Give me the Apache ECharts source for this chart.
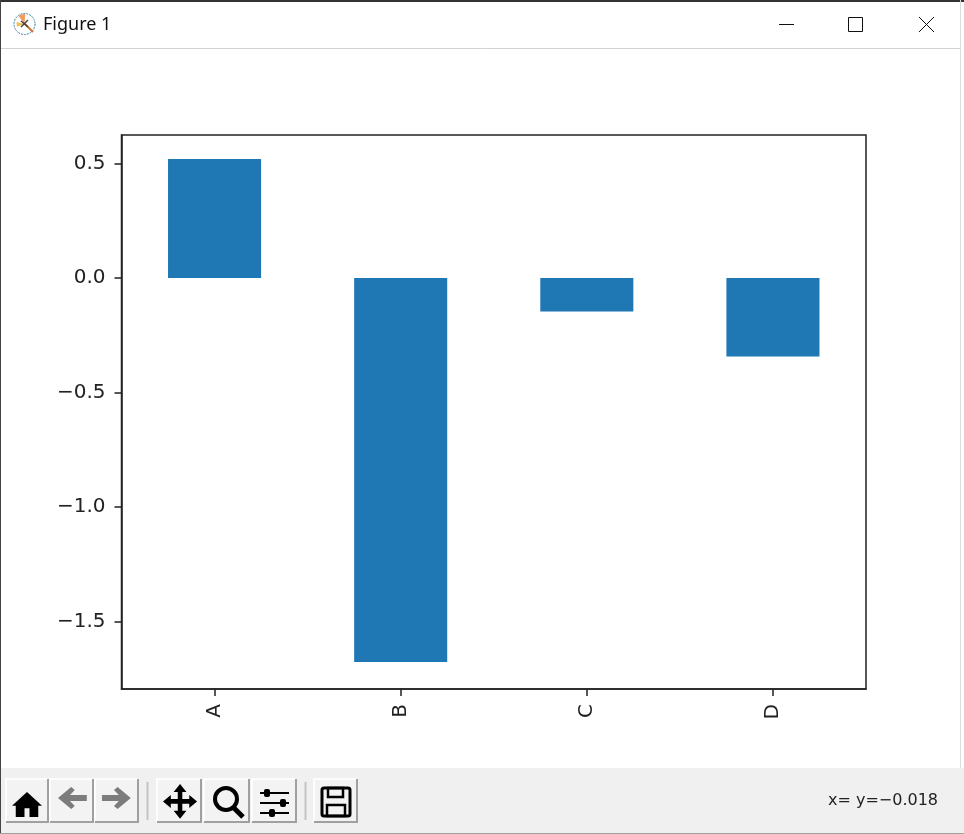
<!DOCTYPE html>
<html>
<head>
<meta charset="utf-8">
<title>Figure 1</title>
<script src="https://cdn.jsdelivr.net/npm/echarts@6/dist/echarts.min.js"></script>
<style>
html, body { margin: 0; padding: 0; background: #fff; }
#main { width: 964px; height: 834px; }
</style>
</head>
<body>
<div id="main"></div>
<script>
const categories = ['A', 'B', 'C', 'D'];
const seriesValues = [0.52, -1.677, -0.146, -0.343];
const yTicks = [-1.5, -1.0, -0.5, 0.0, 0.5];
const yMin = -1.795;
const yMax = 0.6245;
const statusText = 'x= y=\u22120.018';
const titleText = 'Figure 1';

const axisColor = '#222222';
const plotFont = '"DejaVu Sans"';
const uiFont = '"Noto Sans"';

//工具栏按钮
function button(x, w) {
  return [
    { type: 'rect', shape: { x: x, y: 779, width: w, height: 43 }, style: { fill: '#f3f3f3' } },
    { type: 'polyline', shape: { points: [[x, 822], [x, 779], [x + w, 779]] }, style: { stroke: '#fdfdfd', lineWidth: 2, fill: null } },
    { type: 'polyline', shape: { points: [[x + w, 779], [x + w, 822], [x, 822]] }, style: { stroke: '#a0a0a0', lineWidth: 2, fill: null } }
  ];
}

function icon(points, x, y, sx, sy, fill) {
  return {
    type: 'polygon',
    x: x,
    y: y,
    scaleX: sx,
    scaleY: sy,
    shape: { points: points },
    style: { fill: fill }
  };
}

function line(x1, y1, x2, y2, stroke, lineWidth) {
  return {
    type: 'line',
    shape: { x1: x1, y1: y1, x2: x2, y2: y2 },
    style: { stroke: stroke, lineWidth: lineWidth }
  };
}

//窗口外框和工具栏
function chrome() {
  const els = [];
  els.push({ type: 'rect', shape: { x: 0, y: 768, width: 964, height: 66 }, style: { fill: '#f0f0f0' } });
  els.push(line(0, 1, 964, 1, '#333333', 2));
  els.push(line(0.5, 0, 0.5, 834, '#444444', 1));
  els.push(line(960.5, 0, 960.5, 768, '#dddddd', 1));
  els.push(line(1, 48.5, 960, 48.5, '#d2d2d2', 1));
  els.push(line(0, 833.5, 964, 833.5, '#a0a0a0', 1));

  //标题栏图标
  els.push({ type: 'circle', shape: { cx: 24.5, cy: 24, r: 10.5 }, style: { fill: '#fff', stroke: '#3d7f9e', lineWidth: 1, lineDash: [2, 1] } });
  els.push({ type: 'sector', shape: { cx: 24.5, cy: 24, r: 10, startAngle: -2.2, endAngle: -1.5 }, style: { fill: '#f39a5c' } });
  els.push({ type: 'sector', shape: { cx: 24.5, cy: 24, r: 8, startAngle: 2.8, endAngle: 3.4 }, style: { fill: '#f3c04f' } });
  els.push(line(24, 23, 33, 32, '#c8753a', 2));
  els.push(line(21, 21, 28, 27, '#444444', 1.5));
  els.push(line(28, 20, 21, 27, '#444444', 1.5));
  els.push({
    type: 'text', x: 43, y: 25,
    style: { text: titleText, font: '18px ' + uiFont, fill: '#111111', verticalAlign: 'middle' }
  });

  //窗口按钮
  els.push(line(779, 24.5, 794, 24.5, '#111111', 1));
  els.push({ type: 'rect', shape: { x: 848.5, y: 17.5, width: 14, height: 14 }, style: { fill: null, stroke: '#111111', lineWidth: 1 } });
  els.push(line(919, 17, 934, 32, '#111111', 1));
  els.push(line(934, 17, 919, 32, '#111111', 1));

  //工具栏按钮
  [[6, 42], [50, 43], [95, 43], [157, 44], [204, 45], [252, 44], [314, 43]].forEach(b => {
    button(b[0], b[1]).forEach(e => els.push(e));
  });
  els.push(line(147.5, 782, 147.5, 820, '#c4c4c4', 2));
  els.push(line(305.5, 782, 305.5, 820, '#c4c4c4', 2));

  const homeIcon = [[12, 0], [24, 11], [21, 11], [21, 20], [14, 20], [14, 13], [10, 13], [10, 20], [3, 20], [3, 11], [0, 11]];
  const backIcon = [[11, 0], [14, 3], [10, 8], [24, 8], [24, 14], [10, 14], [14, 19], [11, 22], [0, 11]];
  const forwardIcon = [[13, 0], [24, 11], [13, 22], [10, 19], [14, 14], [0, 14], [0, 8], [14, 8], [10, 3]];
  const moveIcon = [[12, 0], [16.5, 5.5], [13.6, 5.5], [13.6, 10.4], [18.5, 10.4], [18.5, 7.5], [24, 12], [18.5, 16.5], [18.5, 13.6], [13.6, 13.6], [13.6, 18.5], [16.5, 18.5], [12, 24], [7.5, 18.5], [10.4, 18.5], [10.4, 13.6], [5.5, 13.6], [5.5, 16.5], [0, 12], [5.5, 7.5], [5.5, 10.4], [10.4, 10.4], [10.4, 5.5], [7.5, 5.5]];
  els.push(icon(homeIcon, 12, 792, 1.25, 1.25, '#000'));
  els.push(icon(backIcon, 58, 787, 1.2, 1, '#7c7c7c'));
  els.push(icon(forwardIcon, 102, 787, 1.2, 1, '#7c7c7c'));
  els.push(icon(moveIcon, 163, 784, 1.42, 1.45, '#000'));
  els.push({ type: 'circle', shape: { cx: 226, cy: 799, r: 11 }, style: { fill: null, stroke: '#000', lineWidth: 4 } });
  els.push(line(233, 807, 243, 817, '#000', 5));
  [[793, 264], [803, 280], [813, 269]].forEach(s => {
    els.push(line(260, s[0], 289, s[0], '#000', 2));
    els.push({ type: 'rect', shape: { x: s[1], y: s[0] - 4, width: 6, height: 8, r: 2 }, style: { fill: '#000' } });
  });
  els.push({ type: 'rect', shape: { x: 322, y: 788, width: 28, height: 28, r: 2 }, style: { fill: null, stroke: '#000', lineWidth: 3 } });
  els.push({ type: 'rect', shape: { x: 328, y: 788, width: 15, height: 9 }, style: { fill: null, stroke: '#000', lineWidth: 2.5 } });
  els.push({ type: 'rect', shape: { x: 327, y: 805, width: 18, height: 11 }, style: { fill: null, stroke: '#000', lineWidth: 2.5 } });

  els.push({
    type: 'text', x: 938, y: 801,
    style: { text: statusText, font: '16px ' + plotFont, fill: '#222222', align: 'right', verticalAlign: 'middle' }
  });
  return els;
}

const chart = echarts.init(document.getElementById('main'));
chart.setOption({
  animation: false,
  backgroundColor: '#ffffff',
  graphic: { elements: chrome() },
  grid: {
    left: 121.5,
    right: 98,
    top: 135,
    bottom: 145,
    show: true,
    borderColor: axisColor,
    borderWidth: 1.5,
    backgroundColor: '#ffffff'
  },
  xAxis: {
    type: 'category',
    data: categories,
    axisLine: { onZero: false, lineStyle: { color: axisColor, width: 1.5 } },
    axisTick: { show: true, alignWithLabel: true, length: 7, lineStyle: { color: axisColor, width: 1.5 } },
    axisLabel: { rotate: 90, margin: 15, padding: [0, 0, 7, 0], color: axisColor, fontFamily: plotFont, fontSize: 20 },
    splitLine: { show: false }
  },
  yAxis: {
    type: 'value',
    min: yMin,
    max: yMax,
    axisLine: { show: true, lineStyle: { color: axisColor, width: 1.5 } },
    axisTick: { show: true, length: 7, customValues: yTicks, lineStyle: { color: axisColor, width: 1.5 } },
    axisLabel: {
      customValues: yTicks,
      margin: 16,
      padding: [3, 0, 0, 0],
      color: axisColor,
      fontFamily: plotFont,
      fontSize: 20,
      formatter: v => v.toFixed(1).replace('-', '\u2212')
    },
    splitLine: { show: false }
  },
  series: [{
    type: 'bar',
    data: seriesValues,
    barWidth: '50%',
    itemStyle: { color: '#1f77b4' },
    silent: true
  }]
});
</script>
</body>
</html>
